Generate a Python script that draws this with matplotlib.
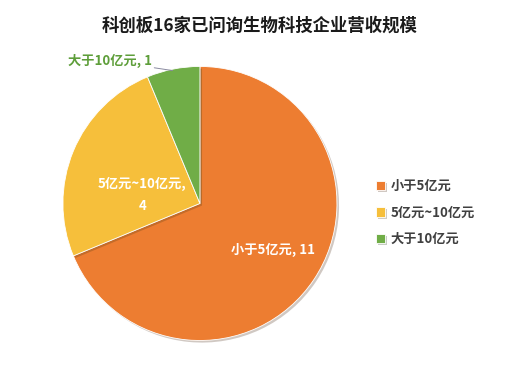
import matplotlib.pyplot as plt
import matplotlib.patheffects as pe

plt.rcParams['font.family'] = ['Noto Sans CJK SC', 'DejaVu Sans']

categories = ['小于5亿元', '5亿元~10亿元', '大于10亿元']
counts = [11, 4, 1]
colors = ['#ED7D31', '#F6BF3B', '#70AD47']

fig = plt.figure(figsize=(5.2, 3.73), dpi=100)
fig.patch.set_facecolor('white')

ax = fig.add_axes([0.121, 0.087, 0.527, 0.735])
wedges, _ = ax.pie(counts, colors=colors, startangle=90, counterclock=False,
                   wedgeprops=dict(linewidth=0.6, edgecolor='white'))
for w in wedges:
    w.set_path_effects([pe.SimplePatchShadow(offset=(1.5, -1.5), alpha=0.25), pe.Normal()])
ax.set_xlim(-1, 1)
ax.set_ylim(-1, 1)
ax.set_aspect('equal')

fig.text(0.5, 0.932, '科创板16家已问询生物科技企业营收规模', ha='center', va='center',
         fontsize=12.5, fontweight='bold', color='#1a1a1a')

# data labels
lab_kw = dict(fontsize=9.5, fontweight='bold', ha='center', va='center')
ax.text(0.53, -0.34, f'{categories[0]}, {counts[0]}', color='white', **lab_kw)
ax.text(-0.42, 0.14, f'{categories[1]},', color='white', **lab_kw)
ax.text(-0.42, -0.02, f'{counts[1]}', color='white', **lab_kw)
ax.annotate(f'{categories[2]}, {counts[2]}', xy=(-0.20, 0.97), xytext=(-0.66, 1.04),
            color='#5E9E3A', ha='center', va='center', fontsize=9.5, fontweight='bold',
            arrowprops=dict(arrowstyle='-', color='#8a8aa0', lw=0.7,
                            shrinkA=22, shrinkB=0))

leg = fig.legend(wedges, categories, loc='center left', bbox_to_anchor=(0.70, 0.43),
                 frameon=False, handlelength=0.7, handleheight=0.7, handletextpad=0.4,
                 labelspacing=0.95, prop=dict(size=9.5, weight='bold'))
for t in leg.get_texts():
    t.set_color('#404040')

fig.savefig('out.png', dpi=100, facecolor='white')
